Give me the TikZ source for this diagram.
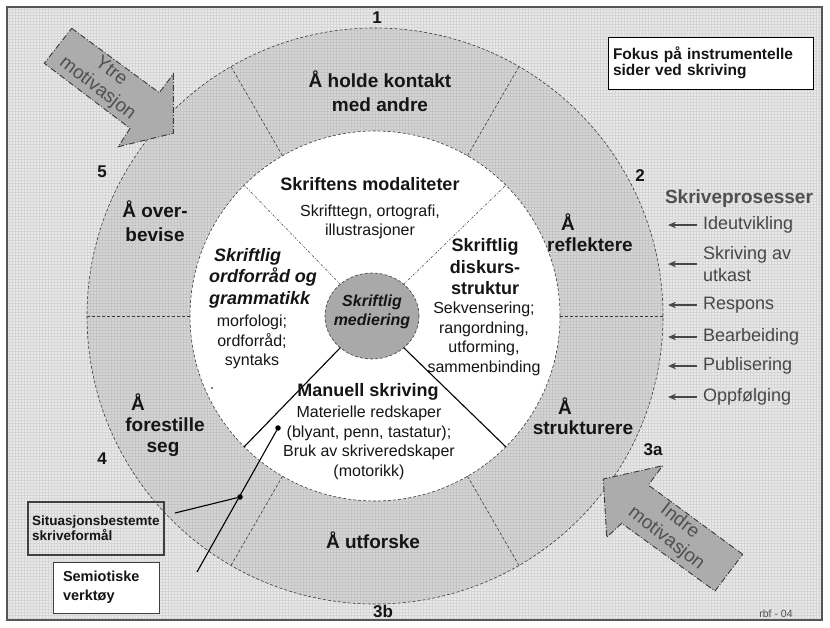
\documentclass[tikz,border=0pt]{standalone}
\usepackage{fontspec}
\setmainfont{Liberation Sans}
\usetikzlibrary{arrows.meta,shapes.geometric,calc}
\definecolor{bgc}{HTML}{E9E9E9}
\definecolor{ringc}{HTML}{D6D6D6}
\definecolor{arrc}{HTML}{ACACAC}
\definecolor{arrdraw}{HTML}{3A3A3A}
\definecolor{midc}{HTML}{A9A9A9}
\definecolor{txtc}{HTML}{151515}
\definecolor{procc}{HTML}{474747}
\definecolor{headc}{HTML}{505050}
\definecolor{framec}{HTML}{555555}
\definecolor{dashc}{HTML}{3C3C3C}
\definecolor{boxc}{HTML}{404040}
\begin{document}
\begin{tikzpicture}[x=1pt,y=-1pt,
  every node/.style={inner sep=0pt, outer sep=0pt},
  txt/.style={text=txtc, align=center},
  ringlbl/.style={txt, font=\bfseries\fontsize{19}{23.5}\selectfont},
  numlbl/.style={txt, font=\bfseries\fontsize{17}{20}\selectfont},
  sectitle/.style={txt, font=\bfseries\fontsize{18}{21.5}\selectfont},
  secitalic/.style={txt, font=\bfseries\itshape\fontsize{18}{21.5}\selectfont},
  secbody/.style={txt, font=\fontsize{16}{19.5}\selectfont},
  proclbl/.style={text=procc, align=left, anchor=west, font=\fontsize{18}{22}\selectfont},
  procarrow/.style={draw=procc, line width=1.3pt, -{Stealth[length=8pt,width=6.5pt]}},
  dashln/.style={draw=dashc, line width=0.6pt, dash pattern=on 3pt off 2pt},
  fineln/.style={draw=dashc, line width=0.5pt, dash pattern=on 2.5pt off 1.5pt on 0.8pt off 1.5pt},
  solidln/.style={draw=black, line width=1.1pt},
  bigarrow/.style={fill=arrc, draw=arrdraw, line width=0.9pt, dash pattern=on 6pt off 2pt on 1pt off 2pt},
  arrtxt/.style={text=headc, font=\fontsize{19}{22}\selectfont, align=center, rotate=-38},
  dotn/.style={circle, fill=black, minimum size=5.5pt},
  gridln/.style={draw=black, opacity=0.08, line width=0.5pt}
]
\useasboundingbox (0,0) rectangle (830,627);
\fill[white] (0,0) rectangle (830,627);
\fill[bgc] (7,7) rectangle (822,620);

% outer ring
\node[circle, minimum size=576pt, fill=ringc] (outer) at (375,316) {};
\draw[gridln, step=3pt] (7,7) grid (822,620);
\draw[dashln] (outer.center) circle[radius=288pt];
\node[circle, minimum size=370pt, fill=white, dashln] (inner) at (375,316) {};
\foreach \a in {0,60,120,180,240,300} \draw[dashln] (inner.\a) -- (outer.\a);

% frame
\draw[framec, line width=1.6pt] (7,7) rectangle (822,620);

% centre
\node[ellipse, minimum width=94pt, minimum height=86pt, fill=midc, dashln] (med) at (372,316) {};
\draw[fineln] (med.45) -- (inner.45);
\draw[fineln] (med.135) -- (inner.135);
\draw[solidln] (med.225) -- (inner.225);
\draw[solidln] (med.315) -- (inner.315);
\node[txt, font=\bfseries\itshape\fontsize{16}{19}\selectfont] (medtxt) at (372,312) {Skriftlig\\mediering};

% inner sectors
\node[sectitle] (modt) at (370,184) {Skriftens modaliteter};
\node[secbody] (modb) at (370,222) {Skrifttegn, ortografi,\\illustrasjoner};
\node[sectitle] (diskt) at (485,267) {Skriftlig\\diskurs-\\struktur};
\node[secbody] (diskb) at (484,339) {Sekvensering;\\rangordning,\\utforming,\\sammenbinding};
\node[secitalic, align=left, anchor=west] (ordt) at (209,278) {\hspace*{5pt}Skriftlig\\ordforråd og\\grammatikk};
\node[secbody] (ordb) at (252,342) {morfologi;\\ordforråd;\\syntaks};
\node[sectitle] (mant) at (368,392) {Manuell skriving};
\node[secbody] (manb) at (369,443) {Materielle redskaper\\(blyant, penn, tastatur);\\Bruk av skriveredskaper\\(motorikk)};
\node[circle, fill=black, minimum size=1.6pt] (stray) at (212,388) {};

% ring labels
\node[ringlbl] (hold) at (380,91) {Å holde kontakt\\med andre};
\node[ringlbl] (refA) at (568,222) {Å};
\node[ringlbl] (ref) at (590,245) {reflektere};
\node[ringlbl] (strA) at (565,406) {Å};
\node[ringlbl] (str) at (583,428) {strukturere};
\node[ringlbl] (utf) at (373,540) {Å utforske};
\node[ringlbl] (forA) at (138,402) {Å};
\node[ringlbl] (for) at (165,425) {forestille};
\node[ringlbl] (seg) at (163,449) {seg};
\node[ringlbl] (ove) at (155,221) {Å over-\\bevise};

% numbers
\node[numlbl] (n1) at (377,18) {1};
\node[numlbl] (n2) at (640,176) {2};
\node[numlbl] (n3a) at (653,450) {3a};
\node[numlbl] (n3b) at (383,611) {3b};
\node[numlbl] (n4) at (102,459) {4};
\node[numlbl] (n5) at (102,172) {5};

% big arrows
\draw[bigarrow] (71.7,28.3) -- (159.3,92.7) -- (173.3,74) -- (173.3,133.3) -- (118.3,146.7) -- (130,128.3) -- (44.3,63.3) -- cycle;
\node[arrtxt] (ytre) at (104,80) {Ytre\\motivasjon};
\draw[bigarrow] (742.7,554.3) -- (648.3,485) -- (662.7,465.7) -- (603.3,479) -- (606.7,537.3) -- (621.7,523.3) -- (715,591) -- cycle;
\node[arrtxt] (indre) at (673,530) {Indre\\motivasjon};

% top right box
\node[draw=black, line width=1pt, fill=white, minimum width=205pt, minimum height=52pt, text width=195pt, align=left, font=\bfseries\fontsize{15.5}{16.5}\selectfont, text=txtc] (fokus) at (710.5,63) {Fokus på instrumentelle\\sider ved skriving};

% process list
\node[text=headc, font=\bfseries\fontsize{19}{22}\selectfont] (proc) at (739,199) {Skriveprosesser};
\coordinate (tipx) at (668,0);
\node[proclbl] (i1) at (703,225) {Ideutvikling};
\node[proclbl] (i2) at (703,264) {Skriving av\\utkast};
\node[proclbl] (i3) at (703,305) {Respons};
\node[proclbl] (i4) at (703,337) {Bearbeiding};
\node[proclbl] (i5) at (703,366) {Publisering};
\node[proclbl] (i6) at (703,397) {Oppfølging};
\foreach \i in {i1,i2,i3,i4,i5,i6}
  \draw[procarrow] ([xshift=-6pt]\i.west) -- (\i.west -| tipx);

% lower left boxes
\node[draw=boxc, line width=1.3pt, minimum width=136pt, minimum height=53pt, text width=128pt, align=left, font=\bfseries\fontsize{13.5}{15}\selectfont, text=txtc] (sit) at (96,528.5) {Situasjonsbestemte\\skriveformål};
\node[draw=boxc, line width=1pt, fill=white, minimum width=106pt, minimum height=51pt, text width=86pt, align=left, font=\bfseries\fontsize{14.5}{19}\selectfont, text=txtc] (sem) at (106,587.5) {Semiotiske\\verktøy};
\node[dotn] (d1) at (240,497) {};
\node[dotn] (d2) at (278,428) {};
\coordinate (s1) at (175,513);
\coordinate (s2) at (197,572);
\draw[solidln] (s1) -- (d1);
\draw[solidln] (s2) -- (d2);

\node[text=headc, font=\fontsize{10.5}{12}\selectfont] (rbf) at (776,614) {rbf - 04};
\end{tikzpicture}
\end{document}
